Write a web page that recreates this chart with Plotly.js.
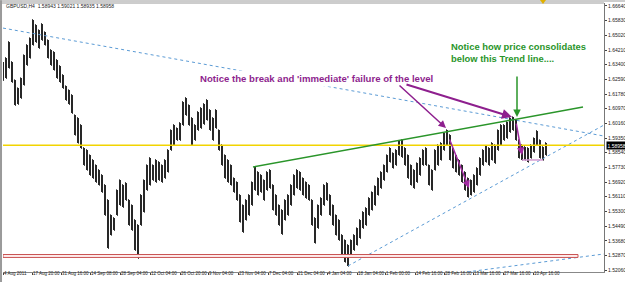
<!DOCTYPE html>
<html><head><meta charset="utf-8">
<script src="https://cdn.plot.ly/plotly-3.0.1.min.js"></script>
<style>html,body{margin:0;padding:0;background:#fff}#chart{width:625px;height:282px}</style>
</head><body><div id="chart"></div>
<script>
// GBPUSD H4 – each entry is one column of ~6 H4 bars (high / low)
const barHigh=[1.6355,1.6377,1.6465,1.6355,1.6255,1.6211,1.6266,1.6393,1.6449,1.6487,
1.6587,1.6559,1.6531,1.6565,1.6520,1.6476,1.6421,1.6410,1.6366,1.6333,
1.6283,1.6222,1.6200,1.6173,1.6062,1.6046,1.6007,1.5880,1.5869,1.5841,
1.5814,1.5786,1.5759,1.5731,1.5676,1.5593,1.5510,1.5494,1.5648,1.5703,
1.5676,1.5687,1.5593,1.5565,1.5483,1.5455,1.5621,1.5703,1.5786,1.5825,
1.5786,1.5814,1.5803,1.5786,1.5814,1.5869,1.5979,1.6007,1.5990,1.6018,
1.6134,1.6156,1.6117,1.6046,1.6007,1.6079,1.6101,1.6123,1.6145,1.6090,
1.6046,1.6090,1.5979,1.5897,1.5841,1.5814,1.5786,1.5714,1.5692,1.5621,
1.5565,1.5593,1.5621,1.5692,1.5775,1.5748,1.5731,1.5703,1.5748,1.5759,
1.5676,1.5621,1.5565,1.5538,1.5593,1.5621,1.5676,1.5731,1.5759,1.5748,
1.5714,1.5692,1.5676,1.5593,1.5494,1.5565,1.5604,1.5676,1.5687,1.5621,
1.5565,1.5510,1.5483,1.5400,1.5372,1.5345,1.5372,1.5400,1.5438,1.5483,
1.5527,1.5549,1.5604,1.5637,1.5670,1.5714,1.5748,1.5786,1.5841,1.5880,
1.5852,1.5869,1.5919,1.5924,1.5880,1.5841,1.5786,1.5759,1.5797,1.5825,
1.5869,1.5880,1.5786,1.5759,1.5869,1.5897,1.5908,1.5963,1.5979,1.5952,
1.5880,1.5841,1.5814,1.5786,1.5748,1.5714,1.5703,1.5731,1.5770,1.5825,
1.5869,1.5891,1.5880,1.5908,1.5897,1.5979,1.6007,1.6007,1.6024,1.6046,
1.6051,1.6035,1.5924,1.5897,1.5886,1.5880,1.5897,1.5935,1.5974,1.5924,
1.5886,1.5908];
const barLow=[1.6255,1.6266,1.6322,1.6244,1.6117,1.6123,1.6156,1.6228,1.6338,1.6377,
1.6449,1.6465,1.6432,1.6476,1.6449,1.6377,1.6338,1.6311,1.6266,1.6244,
1.6211,1.6145,1.6123,1.6073,1.5952,1.5908,1.5880,1.5786,1.5759,1.5731,
1.5714,1.5692,1.5676,1.5637,1.5510,1.5328,1.5400,1.5427,1.5510,1.5565,
1.5554,1.5593,1.5455,1.5427,1.5317,1.5273,1.5455,1.5527,1.5648,1.5676,
1.5703,1.5692,1.5703,1.5692,1.5714,1.5748,1.5869,1.5897,1.5924,1.5924,
1.6007,1.6062,1.6007,1.5897,1.5924,1.5979,1.5990,1.6012,1.6035,1.5979,
1.5924,1.5990,1.5869,1.5786,1.5714,1.5692,1.5676,1.5637,1.5593,1.5472,
1.5416,1.5483,1.5510,1.5565,1.5648,1.5621,1.5637,1.5593,1.5648,1.5659,
1.5538,1.5510,1.5455,1.5405,1.5483,1.5510,1.5565,1.5621,1.5659,1.5648,
1.5621,1.5604,1.5593,1.5455,1.5356,1.5438,1.5510,1.5565,1.5593,1.5510,
1.5455,1.5400,1.5372,1.5289,1.5251,1.5229,1.5289,1.5317,1.5345,1.5383,
1.5438,1.5455,1.5510,1.5538,1.5565,1.5621,1.5659,1.5703,1.5748,1.5803,
1.5770,1.5786,1.5841,1.5830,1.5786,1.5714,1.5676,1.5659,1.5692,1.5731,
1.5786,1.5786,1.5676,1.5648,1.5759,1.5786,1.5814,1.5869,1.5897,1.5814,
1.5770,1.5748,1.5731,1.5692,1.5648,1.5610,1.5621,1.5637,1.5676,1.5731,
1.5786,1.5803,1.5786,1.5814,1.5797,1.5869,1.5897,1.5924,1.5935,1.5968,
1.5979,1.5924,1.5825,1.5814,1.5814,1.5803,1.5825,1.5858,1.5897,1.5825,
1.5814,1.5841];
const barsPerColumn=6;
const dateTickBars=[0,58,116,174,234,294,354,410,470,530,588,648,708,764,824,882,940,1000,1060];
const dateTickText=["4 Aug 2011","17 Aug 20:00","31 Aug 16:00","14 Sep 08:00","28 Sep 04:00","12 Oct 04:00","26 Oct 20:00","9 Nov 04:00","23 Nov 04:00","7 Dec 04:00","21 Dec 04:00","4 Jan 04:00","18 Jan 04:00","1 Feb 00:00","14 Feb 16:00","28 Feb 16:00","13 Mar 16:00","27 Mar 16:00","10 Apr 16:00"];
const priceTicks=[1.5206,1.5287,1.5368,1.5449,1.5530,1.5611,1.5692,1.5773,1.5854,1.5935,1.6016,1.6097,1.6178,1.6259,1.6340,1.6421,1.6502,1.6583,1.6664];
const lastPrice=1.58958;
const header="GBPUSD,H4  1.58943 1.59021 1.58935 1.58958";

const xs=barHigh.map((_,i)=>i*barsPerColumn);
const trace={type:'ohlc',x:xs,open:barHigh,close:barLow,high:barHigh,low:barLow,
  tickwidth:0.25,
  increasing:{line:{color:'#000',width:1.8}},
  decreasing:{line:{color:'#111',width:1.8}},
  hoverinfo:'skip'};

const purple='#8e1f8e', green='#2a952a', blue='#5b9bd5';
const shapes=[
 {type:'line',xref:'x',yref:'y',x0:0,y0:1.6542,x1:1202,y1:1.5946,line:{color:blue,width:1,dash:'dot'}},
 {type:'line',xref:'x',yref:'y',x0:690,y0:1.5229,x1:1202,y1:1.6007,line:{color:blue,width:1,dash:'dot'}},
 {type:'line',xref:'x',yref:'y',x0:904,y0:1.5187,x1:1202,y1:1.5295,line:{color:blue,width:1,dash:'dot'}},
 {type:'rect',xref:'x',yref:'y',x0:0,x1:1150,y0:1.5276,y1:1.5292,line:{color:'#c85050',width:1},fillcolor:'#fff0f0'},
 {type:'line',xref:'x',yref:'y',x0:0,x1:1202,y0:lastPrice,y1:lastPrice,line:{color:'#f2d400',width:1.5}},
 {type:'line',xref:'x',yref:'y',x0:500,y0:1.5775,x1:1160,y1:1.6106,line:{color:green,width:1.5}},
 {type:'line',xref:'x',yref:'y',x0:1038,x1:1080,y0:1.5814,y1:1.5814,line:{color:'#d29ad2',width:1.5}},
 {type:'line',xref:'paper',yref:'paper',x0:-0.01,x1:1.04,y0:1.0074,y1:1.0074,line:{color:'#9a9a9a',width:1}},
 {type:'line',xref:'paper',yref:'paper',x0:-0.01,x1:1.0,y0:1.0,y1:1.0,line:{color:'#9a9a9a',width:1}},
 {type:'line',xref:'paper',yref:'paper',x0:-0.0033,x1:-0.0033,y0:-0.04,y1:1.01,line:{color:'#9a9a9a',width:2}},
 {type:'path',xref:'paper',yref:'paper',path:'M0.8935,1.0112 L0.9035,1.0112 L0.8985,0.9963 Z',fillcolor:'#e0b000',line:{width:0}}
];
const annotations=[
 {xref:'paper',yref:'paper',x:0.0017,y:0.9907,xanchor:'left',yanchor:'middle',showarrow:false,text:header,font:{family:'Liberation Sans',size:5,color:'#222'}},
 {xref:'paper',yref:'paper',x:0.3228,y:0.7193,xanchor:'left',yanchor:'middle',showarrow:false,text:"<b>Notice the break and 'immediate' failure of the level</b>",font:{family:'Liberation Sans',size:9.6,color:purple},bgcolor:'#ffffff',borderpad:2},
 {xref:'paper',yref:'paper',x:0.7421,y:0.8662,xanchor:'left',yanchor:'top',align:'left',showarrow:false,text:"<b>Notice how price consolidates<br>below this Trend line....</b>",font:{family:'Liberation Sans',size:9.4,color:green}},
 {xref:'paper',yref:'y',x:1,y:lastPrice,xanchor:'left',yanchor:'middle',xshift:2,showarrow:false,text:'1.58958',bgcolor:'#000',borderpad:0.5,font:{family:'Liberation Sans',size:5,color:'#fff'}},
 {xref:'x',yref:'y',x:1028,y:1.6051,ax:0,ay:-42,text:'',showarrow:true,arrowhead:2,arrowsize:1,arrowwidth:1.5,arrowcolor:green},
 {xref:'x',yref:'y',x:886,y:1.5990,ax:-48,ay:-44,text:'',showarrow:true,arrowhead:2,arrowsize:1,arrowwidth:1.5,arrowcolor:purple},
 {xref:'x',yref:'y',x:1018,y:1.6051,ax:-107,ay:-33,text:'',showarrow:true,arrowhead:2,arrowsize:1,arrowwidth:2,arrowcolor:purple},
 {xref:'x',yref:'y',x:932,y:1.5659,ax:-20,ay:-50,text:'',showarrow:true,arrowhead:2,arrowsize:1,arrowwidth:1.5,arrowcolor:'#a12ba1'},
 {xref:'x',yref:'y',x:1038,y:1.5841,ax:-6,ay:-33,text:'',showarrow:true,arrowhead:2,arrowsize:1,arrowwidth:1.5,arrowcolor:'#a12ba1'}
];
const layout={width:625,height:282,margin:{l:3,r:21,t:3,b:10},paper_bgcolor:'#fff',plot_bgcolor:'#fff',showlegend:false,
 xaxis:{range:[0,1202],tickvals:dateTickBars,ticktext:dateTickText,tickangle:0,ticks:'outside',ticklen:2,tickcolor:'#444',showline:true,linecolor:'#888',linewidth:1,showgrid:false,zeroline:false,ticklabelposition:'outside right',ticklabelstandoff:-3,tickfont:{family:'Liberation Sans',size:4.5,color:'#222'},rangeslider:{visible:false},fixedrange:true},
 yaxis:{side:'right',range:[1.51956,1.66804],tickvals:priceTicks,tickformat:'.5f',ticks:'outside',ticklen:2,tickcolor:'#444',showline:true,linecolor:'#777',linewidth:1,showgrid:false,zeroline:false,tickfont:{family:'Liberation Sans',size:5,color:'#222'},fixedrange:true},
 shapes:shapes,annotations:annotations};
Plotly.newPlot('chart',[trace],layout,{staticPlot:true,displayModeBar:false});
</script></body></html>
